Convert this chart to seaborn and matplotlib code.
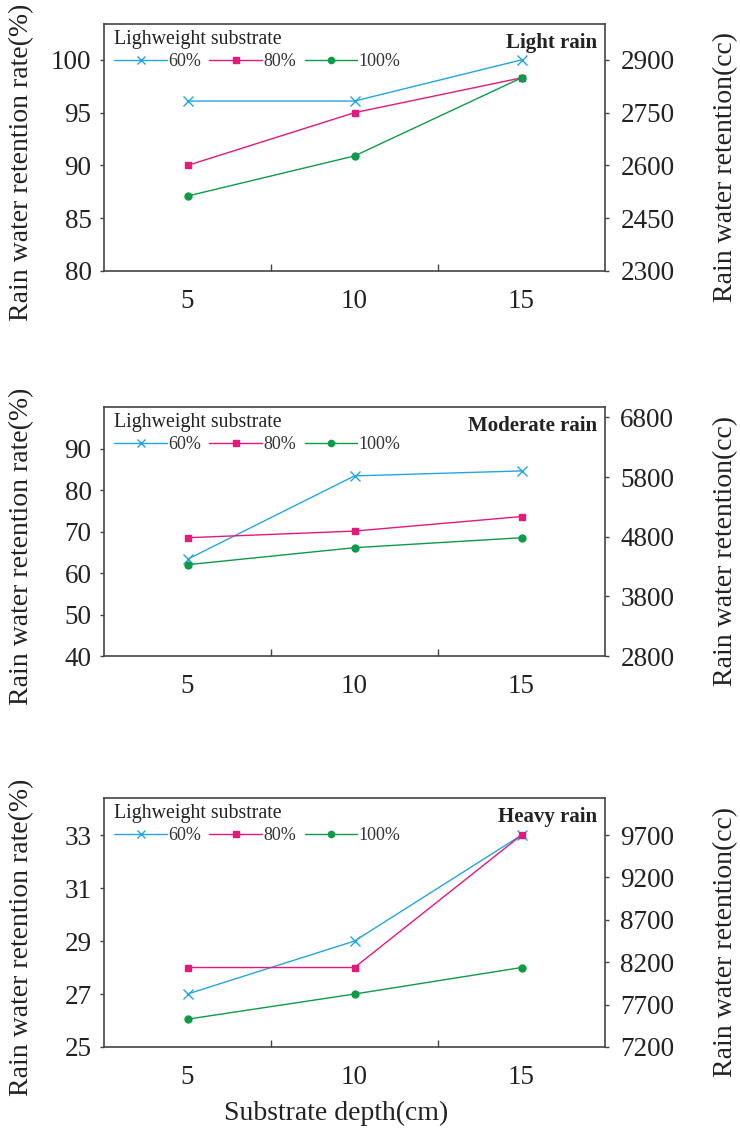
import matplotlib
matplotlib.use("Agg")
import matplotlib.pyplot as plt
import seaborn as sns
import pandas as pd
import numpy as np

sns.set_theme(style="white")
plt.rcParams['font.family'] = ['Liberation Serif', 'DejaVu Serif']

depths = [5, 10, 15]
substrates = ["60%", "80%", "100%"]
panel_titles = ["Light rain", "Moderate rain", "Heavy rain"]

light_60 = [96.1, 96.1, 100.0]
light_80 = [90.0, 95.0, 98.3]
light_100 = [87.1, 90.9, 98.3]

moderate_60 = [63.3, 83.4, 84.6]
moderate_80 = [68.5, 70.1, 73.6]
moderate_100 = [62.0, 66.1, 68.5]

heavy_60 = [27.0, 29.0, 33.0]
heavy_80 = [28.0, 28.0, 33.0]
heavy_100 = [26.05, 27.0, 28.0]

left_ticks = [[80, 85, 90, 95, 100], [40, 50, 60, 70, 80, 90], [25, 27, 29, 31, 33]]
right_ticks = [[2300, 2450, 2600, 2750, 2900],
               [2800, 3800, 4800, 5800, 6800],
               [7200, 7700, 8200, 8700, 9200, 9700]]

panels = [
    (light_60, light_80, light_100),
    (moderate_60, moderate_80, moderate_100),
    (heavy_60, heavy_80, heavy_100),
]

left_lims = [(80, 103.4), (40, 100), (25, 34.4)]
cc_maps = [(80, 2300, 30.0), (40, 2800, 69.6), (25, 7200, 312.5)]

colors = {"60%": "#25a6e0", "80%": "#e5187c", "100%": "#0f9a4a"}
markers = {"60%": "x", "80%": "s", "100%": "o"}
msizes = {"60%": 6.5, "80%": 5, "100%": 5}

fig = plt.figure(figsize=(7.4, 11.35), dpi=100)
W, H = 740, 1135
ax_boxes = [(24, 271), (407, 656), (798, 1047)]
L, R = 104, 605
TICK_FS = 19.5
LABEL_FS = 20

for i, (vals, (top, bot)) in enumerate(zip(panels, ax_boxes)):
    ax = fig.add_axes([L / W, 1 - bot / H, (R - L) / W, (bot - top) / H])
    for sub, v in zip(substrates, vals):
        df = pd.DataFrame({"depth": depths, "rate": v})
        sns.lineplot(data=df, x="depth", y="rate", color=colors[sub],
                     marker=markers[sub], markersize=msizes[sub],
                     markeredgecolor=colors[sub], markerfacecolor=colors[sub],
                     markeredgewidth=1.0, linewidth=1.0, label=sub, ax=ax)

    ax.set_xlim(2.5, 17.5)
    ax.set_ylim(*left_lims[i])
    ax.set_xticks(depths)
    ax.set_xticklabels([str(d) for d in depths], fontsize=TICK_FS, color="#222222")
    ax.set_xticks([7.5, 12.5], minor=True)
    ax.tick_params(axis="x", which="major", length=0, pad=13)
    ax.tick_params(axis="x", which="minor", direction="in", length=5,
                   width=1.0, color="#444444", bottom=True)
    ax.set_yticks(left_ticks[i])
    ax.tick_params(axis="y", which="major", direction="out", length=3,
                   width=1.0, color="#444444", labelsize=TICK_FS, pad=6,
                   left=True, labelcolor="#222222")
    for sp in ax.spines.values():
        sp.set_color("#444444")
        sp.set_linewidth(1.2)
    ax.set_xlabel("")
    ax.set_ylabel("Rain water retention rate(%)", fontsize=LABEL_FS, color="#222222")
    ax.yaxis.set_label_coords(-0.140, 0.44)

    ax.text(0.985, 0.962, panel_titles[i], transform=ax.transAxes,
            ha="right", va="top", fontsize=15, fontweight="bold",
            color="#222222")

    handles, labels = ax.get_legend_handles_labels()
    leg = ax.legend(handles=handles, labels=labels, title="Lighweight substrate",
                    loc="upper left", bbox_to_anchor=(0.008, 1.0), ncol=3,
                    frameon=False, fontsize=13, title_fontsize=14.3,
                    handlelength=2.9, handletextpad=0.1, columnspacing=0.45,
                    borderaxespad=0.2, borderpad=0.15, labelspacing=0.2,
                    markerscale=0.9)
    leg._legend_box.align = "left"
    leg.get_title().set_color("#222222")
    for t in leg.get_texts():
        t.set_color("#333333")

    p0, c0, k = cc_maps[i]
    axr = ax.twinx()
    lo, hi = left_lims[i]
    axr.set_ylim(c0 + (lo - p0) * k, c0 + (hi - p0) * k)
    axr.set_yticks(right_ticks[i])
    axr.tick_params(axis="y", which="major", direction="out", length=3,
                    width=1.0, color="#444444", labelsize=TICK_FS, pad=8,
                    right=True, labelcolor="#222222")
    axr.grid(False)
    for sp in axr.spines.values():
        sp.set_visible(False)
    axr.set_ylabel("Rain water retention(cc)", fontsize=LABEL_FS, color="#222222")
    axr.yaxis.set_label_coords(1.216, 0.42)

    if i == 2:
        ax.set_xlabel("Substrate depth(cm)", fontsize=LABEL_FS, color="#222222")
        ax.xaxis.set_label_coords(0.463, -0.215)

fig.savefig("out.png", dpi=100)
